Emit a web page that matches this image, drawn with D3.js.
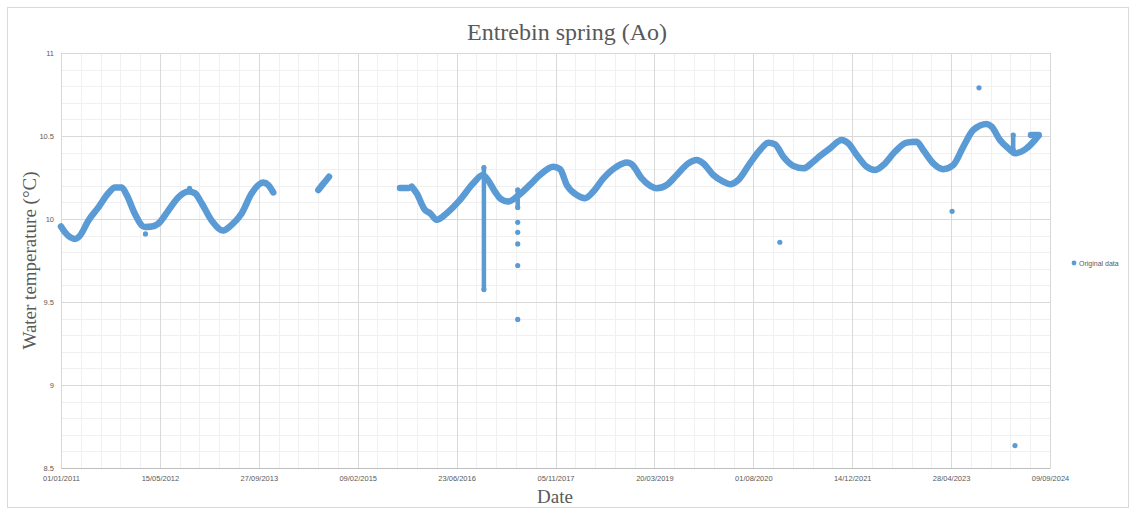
<!DOCTYPE html>
<html>
<head>
<meta charset="utf-8">
<script src="https://cdn.jsdelivr.net/npm/d3@7/dist/d3.min.js"></script>
<style>
  html, body { margin: 0; padding: 0; background: #ffffff; }
  svg { display: block; }
</style>
</head>
<body>
<svg id="chart" width="1135" height="512"></svg>
<script>
// Daily water temperature readings at the Entrebin spring (Ao), °C.
// Continuous logger runs, as [date, value] pairs.
const run2011to2013 = [
  ["2011-01-01", 9.955], ["2011-01-21", 9.92], ["2011-03-13", 9.88], ["2011-04-07", 9.90],
  ["2011-05-19", 9.99], ["2011-07-09", 10.07], ["2011-08-28", 10.155], ["2011-10-01", 10.19],
  ["2011-11-04", 10.19], ["2011-11-29", 10.145], ["2012-01-10", 10.03], ["2012-02-13", 9.962],
  ["2012-03-01", 9.952], ["2012-04-04", 9.955], ["2012-05-07", 9.972], ["2012-06-26", 10.05],
  ["2012-08-16", 10.13], ["2012-10-06", 10.165], ["2012-11-08", 10.155], ["2012-12-12", 10.095],
  ["2013-02-01", 9.99], ["2013-03-31", 9.93], ["2013-05-13", 9.965], ["2013-07-03", 10.035],
  ["2013-08-22", 10.155], ["2013-10-20", 10.22], ["2013-11-14", 10.205], ["2013-12-09", 10.16]
];
const run2014 = [["2014-07-25", 10.175], ["2014-08-21", 10.215], ["2014-09-17", 10.255]];
const run2015 = [["2015-09-11", 10.187], ["2015-10-23", 10.187]];
const run2015to2024 = [
  ["2015-11-09", 10.195], ["2015-12-04", 10.155], ["2016-01-15", 10.055], ["2016-02-10", 10.035],
  ["2016-03-14", 9.995], ["2016-05-04", 10.035], ["2016-07-10", 10.115], ["2016-09-15", 10.215],
  ["2016-11-02", 10.265], ["2016-11-22", 10.245], ["2017-01-03", 10.165], ["2017-01-28", 10.125],
  ["2017-03-11", 10.105], ["2017-04-23", 10.134], ["2017-06-28", 10.205], ["2017-08-18", 10.265],
  ["2017-10-25", 10.315], ["2017-11-28", 10.30], ["2018-01-01", 10.205], ["2018-02-20", 10.145],
  ["2018-04-03", 10.125], ["2018-05-15", 10.165], ["2018-07-05", 10.245], ["2018-09-10", 10.315],
  ["2018-10-31", 10.34], ["2018-11-25", 10.33], ["2019-01-15", 10.245], ["2019-02-26", 10.20],
  ["2019-04-01", 10.185], ["2019-05-21", 10.205], ["2019-07-11", 10.265], ["2019-09-07", 10.335],
  ["2019-10-20", 10.355], ["2019-11-22", 10.335], ["2020-01-12", 10.265], ["2020-03-02", 10.225],
  ["2020-04-05", 10.21], ["2020-05-17", 10.235], ["2020-07-15", 10.335], ["2020-09-04", 10.416],
  ["2020-10-16", 10.46], ["2020-11-19", 10.45], ["2020-12-31", 10.375], ["2021-02-19", 10.32],
  ["2021-04-11", 10.305], ["2021-05-31", 10.345], ["2021-07-04", 10.38], ["2021-08-24", 10.426],
  ["2021-10-22", 10.476], ["2021-11-24", 10.456], ["2022-01-06", 10.386], ["2022-02-25", 10.315],
  ["2022-04-08", 10.295], ["2022-05-20", 10.325], ["2022-07-18", 10.405], ["2022-09-15", 10.46],
  ["2022-11-05", 10.466], ["2022-12-08", 10.416], ["2023-01-28", 10.335], ["2023-03-19", 10.30],
  ["2023-05-09", 10.325], ["2023-06-29", 10.436], ["2023-08-18", 10.536], ["2023-10-25", 10.572],
  ["2023-11-19", 10.556], ["2023-12-31", 10.476], ["2024-02-11", 10.426], ["2024-03-16", 10.396],
  ["2024-05-14", 10.426], ["2024-06-25", 10.476], ["2024-07-12", 10.5]
];
const run2024End = [["2024-06-05", 10.506], ["2024-07-14", 10.506]];

// Days on which the logger recorded a column of readings (top and bottom value).
const spikeNov2016 = [["2016-11-08", 10.31], ["2016-11-08", 9.575]];
const spikeApr2017 = [["2017-04-28", 10.175], ["2017-04-28", 10.07]];
const spikeMar2024 = [["2024-03-07", 10.506], ["2024-03-07", 10.416]];

// Single readings away from the main record.
const isolatedReadings = [
  ["2012-03-03", 9.91], ["2012-10-12", 10.185],
  ["2017-04-28", 9.98], ["2017-04-28", 9.92], ["2017-04-28", 9.85], ["2017-04-28", 9.72],
  ["2017-04-28", 9.395], ["2020-12-13", 9.86], ["2023-05-03", 10.046], ["2023-09-16", 10.79],
  ["2024-03-16", 8.635]
];

const xTickLabels = ["01/01/2011", "15/05/2012", "27/09/2013", "09/02/2015", "23/06/2016",
  "05/11/2017", "20/03/2019", "01/08/2020", "14/12/2021", "28/04/2023", "09/09/2024"];
const yTickValues = [8.5, 9, 9.5, 10, 10.5, 11];

const chartTitle = "Entrebin spring (Ao)";
const xTitle = "Date";
const yTitle = "Water temperature (°C)";
const seriesName = "Original data";

// ---- drawing ----
const W = 1135, H = 512;
const plot = { left: 61, right: 1050, top: 53, bottom: 468 };
const blue = "#5b9bd5";
const textGray = "#595959";

const parseISO = d3.utcParse("%Y-%m-%d");
const parseDMY = d3.utcParse("%d/%m/%Y");
const toPoints = arr => arr.map(([d, v]) => ({ date: parseISO(d), value: v }));

const tickDates = xTickLabels.map(parseDMY);
const x = d3.scaleUtc()
  .domain([tickDates[0], tickDates[tickDates.length - 1]])
  .range([plot.left, plot.right]);
const y = d3.scaleLinear()
  .domain([yTickValues[0], yTickValues[yTickValues.length - 1]])
  .range([plot.bottom, plot.top]);

const svg = d3.select("#chart");
svg.append("rect").attr("width", W).attr("height", H).attr("fill", "#ffffff");
svg.append("rect")
  .attr("x", 7.5).attr("y", 7.5).attr("width", 1121).attr("height", 500)
  .attr("fill", "none").attr("stroke", "#d9d9d9").attr("stroke-width", 1);

// Gridlines: minor every 100 days / 0.1 °C, major every 500 days / 0.5 °C
const grid = svg.append("g");
const minorX = d3.range(0, 51).map(i => d3.utcDay.offset(tickDates[0], i * 100));
const minorY = d3.range(85, 111).map(i => i / 10);
grid.selectAll(".mx").data(minorX).join("line")
  .attr("x1", d => Math.round(x(d)) + 0.5).attr("x2", d => Math.round(x(d)) + 0.5)
  .attr("y1", plot.top).attr("y2", plot.bottom)
  .attr("stroke", "#f0f0f0");
grid.selectAll(".my").data(minorY).join("line")
  .attr("x1", plot.left).attr("x2", plot.right)
  .attr("y1", d => Math.round(y(d)) + 0.5).attr("y2", d => Math.round(y(d)) + 0.5)
  .attr("stroke", "#f0f0f0");
grid.selectAll(".Mx").data(tickDates).join("line")
  .attr("x1", d => Math.round(x(d)) + 0.5).attr("x2", d => Math.round(x(d)) + 0.5)
  .attr("y1", plot.top).attr("y2", plot.bottom)
  .attr("stroke", "#d9d9d9");
grid.selectAll(".My").data(yTickValues).join("line")
  .attr("x1", plot.left).attr("x2", plot.right)
  .attr("y1", d => Math.round(y(d)) + 0.5).attr("y2", d => Math.round(y(d)) + 0.5)
  .attr("stroke", "#d9d9d9");

// Axes (labels only; the gridlines act as ticks)
const xAxis = d3.axisBottom(x).tickValues(tickDates)
  .tickFormat((d, i) => xTickLabels[i]).tickSize(0).tickPadding(8);
const gx = svg.append("g").attr("transform", `translate(0,${plot.bottom})`).call(xAxis);
gx.select(".domain").attr("stroke", "#bfbfbf");
gx.selectAll("text").attr("fill", textGray)
  .style("font-family", "'Liberation Sans', Arial, sans-serif").style("font-size", "7.5px");

const yAxis = d3.axisLeft(y).tickValues(yTickValues).tickFormat(d3.format("")).tickSize(0).tickPadding(7);
const gy = svg.append("g").attr("transform", `translate(${plot.left},0)`).call(yAxis);
gy.select(".domain").remove();
gy.selectAll("text").attr("fill", textGray)
  .style("font-family", "'Liberation Sans', Arial, sans-serif").style("font-size", "7.5px");

// Data: continuous runs drawn as a dense band of markers
const band = d3.line().x(d => x(d.date)).y(d => y(d.value)).curve(d3.curveMonotoneX);
const column = d3.line().x(d => x(d.date)).y(d => y(d.value));
const runs = [run2011to2013, run2014, run2015, run2015to2024, run2024End].map(toPoints);
const spikes = [spikeNov2016, spikeApr2017, spikeMar2024].map(toPoints);

const dataG = svg.append("g");
dataG.selectAll(".run").data(runs).join("path")
  .attr("d", band).attr("fill", "none").attr("stroke", blue)
  .attr("stroke-width", 6.5).attr("stroke-linecap", "round").attr("stroke-linejoin", "round");
dataG.selectAll(".spike").data(spikes).join("path")
  .attr("d", column).attr("fill", "none").attr("stroke", blue)
  .attr("stroke-width", 4.5).attr("stroke-linecap", "round");
dataG.selectAll(".pt").data(runs.flat().concat(spikes.flat(), toPoints(isolatedReadings))).join("circle")
  .attr("cx", d => x(d.date)).attr("cy", d => y(d.value)).attr("r", 2.6).attr("fill", blue);

// Titles
svg.append("text").attr("x", 567).attr("y", 40).attr("text-anchor", "middle")
  .attr("fill", textGray).style("font-family", "'Liberation Serif', 'Times New Roman', serif")
  .style("font-size", "24px").text(chartTitle);
svg.append("text").attr("x", 555).attr("y", 503).attr("text-anchor", "middle")
  .attr("fill", textGray).style("font-family", "'Liberation Serif', 'Times New Roman', serif")
  .style("font-size", "19px").text(xTitle);
svg.append("text").attr("transform", `translate(36,${(plot.top + plot.bottom) / 2}) rotate(-90)`)
  .attr("text-anchor", "middle")
  .attr("fill", textGray).style("font-family", "'Liberation Serif', 'Times New Roman', serif")
  .style("font-size", "19px").text(yTitle);

// Legend
const lg = svg.append("g").attr("transform", "translate(1074,263)");
lg.append("circle").attr("r", 2.4).attr("fill", blue);
lg.append("text").attr("x", 5).attr("y", 2.5).attr("fill", textGray)
  .style("font-family", "'Liberation Sans', Arial, sans-serif").style("font-size", "7px").text(seriesName);
</script>
</body>
</html>
